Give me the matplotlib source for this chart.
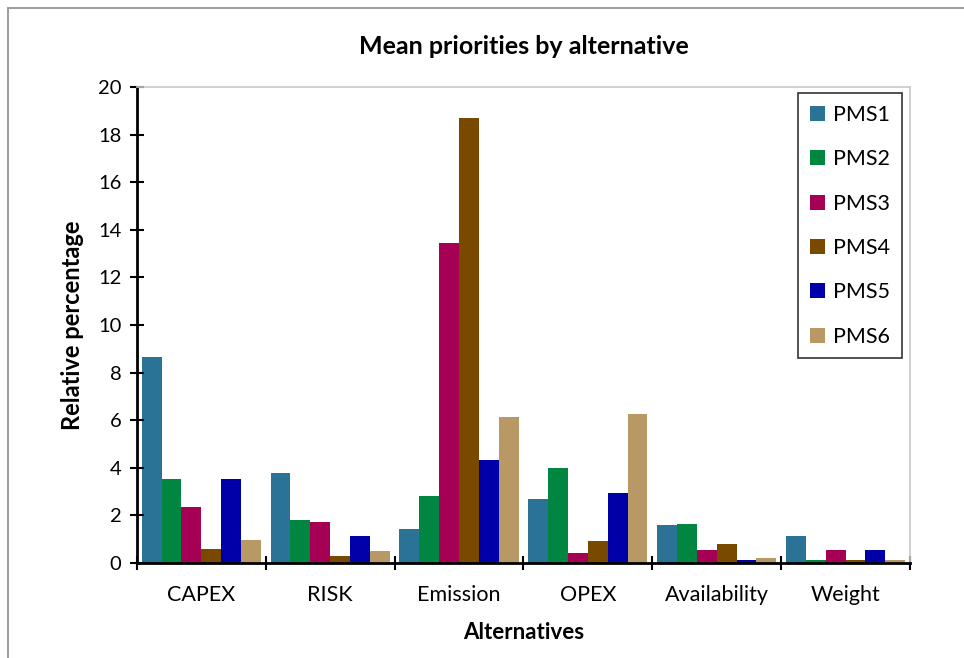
import numpy as np
import matplotlib.pyplot as plt
from matplotlib.patches import Rectangle

plt.rcParams['font.family'] = ['Lato', 'DejaVu Sans']

# Data
categories = ['CAPEX', 'RISK', 'Emission', 'OPEX', 'Availability', 'Weight']
series = ['PMS1', 'PMS2', 'PMS3', 'PMS4', 'PMS5', 'PMS6']
pms1 = [8.65, 3.79, 1.42, 2.70, 1.60, 1.15]
pms2 = [3.53, 1.79, 2.80, 4.00, 1.62, 0.12]
pms3 = [2.34, 1.72, 13.43, 0.40, 0.53, 0.56]
pms4 = [0.57, 0.29, 18.70, 0.93, 0.80, 0.12]
pms5 = [3.54, 1.12, 4.34, 2.93, 0.14, 0.56]
pms6 = [0.95, 0.52, 6.15, 6.26, 0.21, 0.12]
colors = ['#2b7396', '#008641', '#a50054', '#7a4900', '#0000a8', '#b89865']

values = [pms1, pms2, pms3, pms4, pms5, pms6]

fig = plt.figure(figsize=(9.64, 6.58), dpi=100)
ax = fig.add_axes([0.142, 0.1444, 0.802, 0.7234])

x = np.arange(len(categories))
w = 0.154
for i, (name, vals) in enumerate(zip(series, values)):
    ax.bar(x + (i - 2.5) * w, vals, width=w, color=colors[i], label=name,
           edgecolor='none')

ax.set_xlim(-0.5, len(categories) - 0.5)
ax.set_ylim(0, 20)
ax.set_yticks(range(0, 21, 2))
ax.set_xticks(x)
ax.set_xticklabels(categories)
ax.set_xticks(np.arange(-0.5, len(categories)), minor=True)
ax.tick_params(axis='x', which='major', length=0, pad=16, labelsize=15.5)
ax.tick_params(axis='x', which='minor', direction='inout', length=10, width=1.5)
ax.tick_params(axis='y', direction='inout', length=10, width=1.5, labelsize=14.5, pad=6)

for s in ['left', 'bottom']:
    ax.spines[s].set_linewidth(2)
for s in ['top', 'right']:
    ax.spines[s].set_color('#c8c8c8')
    ax.spines[s].set_linewidth(1.2)

ax.set_title('Mean priorities by alternative', fontsize=18, fontweight='bold', pad=24)
ax.set_xlabel('Alternatives', fontsize=16, fontweight='bold', labelpad=12)
ax.set_ylabel('Relative percentage', fontsize=17, fontweight='bold', labelpad=10)

leg = ax.legend(loc='upper right', bbox_to_anchor=(0.99, 0.987), borderaxespad=0,
                fontsize=15.5, frameon=True, fancybox=False, handlelength=0.7,
                handleheight=0.7, labelspacing=1.13, borderpad=0.55,
                handletextpad=0.4)
leg.get_frame().set_edgecolor('black')
leg.get_frame().set_linewidth(1.2)

# outer chart border (left and top visible)
fig.add_artist(Rectangle((8 / 964, -0.1), 1.2, 1.1 - 8 / 658,
                         transform=fig.transFigure, fill=False,
                         edgecolor='#a0a0a0', linewidth=1.5))

fig.savefig('out.png', dpi=100)
